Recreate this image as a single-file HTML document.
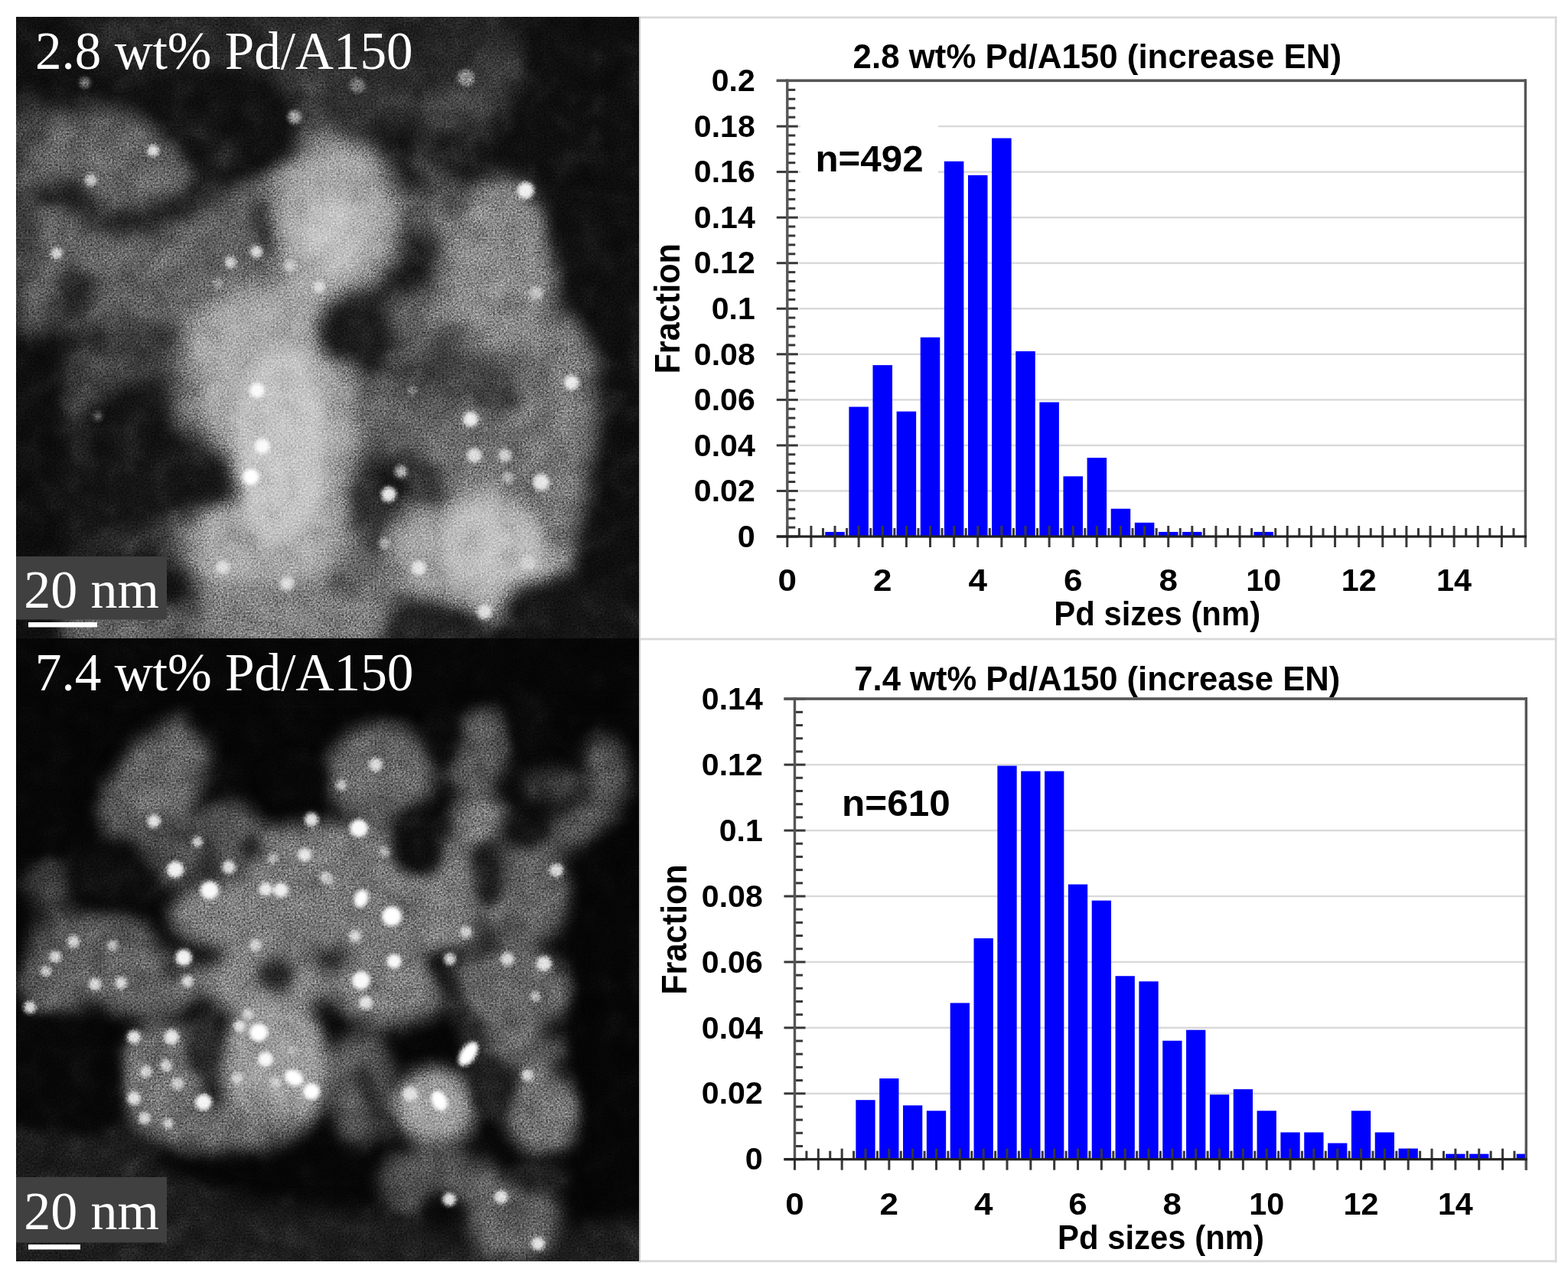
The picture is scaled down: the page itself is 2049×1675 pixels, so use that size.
<!DOCTYPE html>
<html><head><meta charset="utf-8"><title>Pd/A150 STEM and size distributions</title>
<style>
html,body{margin:0;padding:0;background:#fff;}
body{width:2049px;height:1675px;overflow:hidden;}
svg{display:block;}
</style></head>
<body>
<svg width="2049" height="1675" viewBox="0 0 2049 1675">
<rect width="2049" height="1675" fill="#fff"/>
<defs>
<filter id="fb1" color-interpolation-filters="sRGB" x="-30%" y="-30%" width="160%" height="160%"><feGaussianBlur stdDeviation="15"/></filter>
<filter id="fb2" color-interpolation-filters="sRGB" x="-30%" y="-30%" width="160%" height="160%"><feGaussianBlur stdDeviation="10"/></filter>
<filter id="fb3" color-interpolation-filters="sRGB" x="-30%" y="-30%" width="160%" height="160%"><feGaussianBlur stdDeviation="11"/></filter>
<filter id="fb4" color-interpolation-filters="sRGB" x="-30%" y="-30%" width="160%" height="160%"><feGaussianBlur stdDeviation="8"/></filter>
<filter id="fdot" color-interpolation-filters="sRGB" x="-50%" y="-50%" width="200%" height="200%"><feGaussianBlur stdDeviation="2.6"/></filter>
<filter id="fmottle" color-interpolation-filters="sRGB" x="0" y="0" width="100%" height="100%"><feTurbulence type="fractalNoise" baseFrequency="0.03" numOctaves="2" seed="11"/><feColorMatrix type="matrix" values="0.33 0.33 0.33 0 0  0.33 0.33 0.33 0 0  0.33 0.33 0.33 0 0  0 0 0 0 1"/><feComponentTransfer><feFuncR type="linear" slope="2.2" intercept="-0.6"/><feFuncG type="linear" slope="2.2" intercept="-0.6"/><feFuncB type="linear" slope="2.2" intercept="-0.6"/></feComponentTransfer></filter>
<filter id="fnoise" color-interpolation-filters="sRGB" x="0" y="0" width="100%" height="100%"><feTurbulence type="fractalNoise" baseFrequency="0.42" numOctaves="2" seed="7"/><feColorMatrix type="matrix" values="0.33 0.33 0.33 0 0  0.33 0.33 0.33 0 0  0.33 0.33 0.33 0 0  0 0 0 0 1"/><feComponentTransfer><feFuncR type="linear" slope="3.2" intercept="-1.1"/><feFuncG type="linear" slope="3.2" intercept="-1.1"/><feFuncB type="linear" slope="3.2" intercept="-1.1"/></feComponentTransfer></filter>
</defs><clipPath id="c1"><rect x="0" y="0" width="814" height="812"/></clipPath>
<g transform="translate(21,22)" clip-path="url(#c1)">
<rect x="0" y="0" width="814" height="812" fill="#111111"/>
<g filter="url(#fb1)"><ellipse cx="400" cy="30" rx="320" ry="70" fill="#242424"/><ellipse cx="380" cy="40" rx="60" ry="40" fill="#323232"/><path d="M0,135 L40,128 L80,120 L130,122 L180,137 L222,165 L236,230 L215,262 L150,268 L100,240 L40,226 L0,245Z" fill="#666666"/><ellipse cx="14" cy="150" rx="28" ry="40" fill="#464646"/><ellipse cx="395" cy="125" rx="25" ry="60" fill="#525252"/><ellipse cx="90" cy="505" rx="40" ry="40" fill="#424242"/><ellipse cx="497" cy="520" rx="55" ry="65" fill="#5f5f5f"/><ellipse cx="470" cy="720" rx="45" ry="60" fill="#696969"/><ellipse cx="240" cy="680" rx="60" ry="38" fill="#585858"/><ellipse cx="120" cy="682" rx="60" ry="25" fill="#303030"/><ellipse cx="565" cy="475" rx="85" ry="40" fill="#505050" transform="rotate(15 565 475)"/><ellipse cx="560" cy="255" rx="45" ry="40" fill="#646464"/><ellipse cx="577" cy="112" rx="26" ry="58" fill="#606060" transform="rotate(40 577 112)"/><ellipse cx="380" cy="560" rx="45" ry="120" fill="#c8c8c8"/><path d="M0,250 L40,232 L100,248 L150,275 L215,270 L260,230 L290,200 L340,180 L407,160 L420,406 L0,406Z" fill="#646464"/><path d="M520,175 L560,120 L605,55 L645,30 L672,50 L645,110 L595,170 L548,205Z" fill="#3e3e3e"/><ellipse cx="465" cy="105" rx="75" ry="45" fill="#323232"/><ellipse cx="418" cy="262" rx="88" ry="105" fill="#a8a8a8"/><ellipse cx="525" cy="395" rx="45" ry="45" fill="#646464"/><ellipse cx="630" cy="330" rx="78" ry="120" fill="#8c8c8c"/><ellipse cx="715" cy="500" rx="70" ry="110" fill="#767676"/><ellipse cx="600" cy="565" rx="75" ry="60" fill="#707070"/><path d="M210,410 L280,360 L380,340 L440,420 L450,560 L430,700 L380,780 L260,790 L220,700 L250,620 L300,600 L260,560 L215,520Z" fill="#aaaaaa"/><path d="M500,640 L600,610 L700,610 L735,700 L700,780 L600,790 L520,760 L480,700Z" fill="#a5a5a5"/><ellipse cx="690" cy="610" rx="60" ry="90" fill="#767676"/><ellipse cx="360" cy="790" rx="140" ry="50" fill="#828282"/><ellipse cx="120" cy="800" rx="110" ry="40" fill="#646464"/><ellipse cx="140" cy="480" rx="90" ry="60" fill="#464646"/><ellipse cx="200" cy="560" rx="50" ry="60" fill="#505050"/></g>
<g filter="url(#fb2)"><path d="M160,80 L250,68 L330,80 L362,125 L358,178 L320,205 L270,222 L238,195 L200,160 L170,120Z" fill="#121212"/><path d="M31,232 L85,244 L121,266 L182,262 L218,242 L255,218 L268,182 L245,145" fill="none" stroke="#1e1e1e" stroke-width="26" stroke-linecap="round" stroke-linejoin="round"/><ellipse cx="68" cy="228" rx="20" ry="14" fill="#1c1c1c"/><ellipse cx="75" cy="365" rx="28" ry="38" fill="#2a2a2a"/><path d="M318,245 L325,305" fill="none" stroke="#2d2d2d" stroke-width="22" stroke-linecap="round" stroke-linejoin="round"/><ellipse cx="8" cy="290" rx="22" ry="50" fill="#3e3e3e"/><path d="M121,485 L190,470 L206,539 L267,588 L300,622 L265,638 L200,636 L150,655 L60,700 L60,560Z" fill="#161616"/><rect x="-20" y="430" width="80" height="400" fill="#0f0f0f"/><path d="M655,-10 L830,-10 L830,830 L738,830 L732,730 L758,640 L762,520 L760,440 L735,380 L700,300 L690,200 L680,130Z" fill="#101010"/><ellipse cx="437" cy="412" rx="45" ry="42" fill="#1c1c1c"/><path d="M535,190 L575,245" fill="none" stroke="#4e4e4e" stroke-width="30" stroke-linecap="round" stroke-linejoin="round"/><path d="M492,455 L560,470 L640,500" fill="none" stroke="#3e3e3e" stroke-width="30" stroke-linecap="round" stroke-linejoin="round"/><path d="M455,610 L470,690" fill="none" stroke="#373737" stroke-width="30" stroke-linecap="round" stroke-linejoin="round"/><path d="M510,585 L550,625" fill="none" stroke="#373737" stroke-width="30" stroke-linecap="round" stroke-linejoin="round"/><ellipse cx="545" cy="800" rx="60" ry="30" fill="#232323"/><ellipse cx="722" cy="782" rx="85" ry="52" fill="#161616"/><ellipse cx="570" cy="175" rx="35" ry="30" fill="#1e1e1e"/><ellipse cx="415" cy="285" rx="45" ry="50" fill="#c0c0c0"/><ellipse cx="345" cy="560" rx="60" ry="130" fill="#c4c4c4"/><ellipse cx="620" cy="690" rx="70" ry="60" fill="#bcbcbc"/></g>
<g filter="url(#fdot)"><circle cx="90" cy="86" r="7" fill="#828282"/><circle cx="179" cy="175" r="8" fill="#e1e1e1"/><circle cx="98" cy="213" r="8" fill="#c8c8c8"/><circle cx="53" cy="309" r="8" fill="#d7d7d7"/><circle cx="280" cy="321" r="8" fill="#cdcdcd"/><circle cx="314" cy="307" r="8" fill="#d7d7d7"/><circle cx="358" cy="325" r="8" fill="#cdcdcd"/><circle cx="364" cy="131" r="9" fill="#a5a5a5"/><circle cx="396" cy="353" r="8" fill="#dcdcdc"/><circle cx="264" cy="349" r="7" fill="#9b9b9b"/><circle cx="372" cy="376" r="6" fill="#a5a5a5"/><circle cx="315" cy="488" r="10" fill="#fafafa"/><circle cx="322" cy="561" r="10" fill="#fafafa"/><circle cx="307" cy="601" r="11" fill="#ffffff"/><circle cx="270" cy="719" r="9" fill="#dcdcdc"/><circle cx="354" cy="741" r="9" fill="#dcdcdc"/><circle cx="107" cy="522" r="6" fill="#696969"/><circle cx="92" cy="484" r="6" fill="#5a5a5a"/><circle cx="364" cy="484" r="8" fill="#c8c8c8"/><circle cx="726" cy="478" r="10" fill="#ebebeb"/><circle cx="594" cy="526" r="10" fill="#ebebeb"/><circle cx="599" cy="573" r="10" fill="#dcdcdc"/><circle cx="639" cy="573" r="9" fill="#d2d2d2"/><circle cx="503" cy="594" r="8" fill="#b4b4b4"/><circle cx="487" cy="624" r="10" fill="#e6e6e6"/><circle cx="643" cy="602" r="8" fill="#b4b4b4"/><circle cx="686" cy="608" r="11" fill="#e6e6e6"/><circle cx="641" cy="685" r="9" fill="#c3c3c3"/><circle cx="669" cy="713" r="10" fill="#d2d2d2"/><circle cx="526" cy="720" r="10" fill="#e6e6e6"/><circle cx="613" cy="745" r="8" fill="#b4b4b4"/><circle cx="612" cy="777" r="10" fill="#dcdcdc"/><circle cx="482" cy="688" r="8" fill="#a5a5a5"/><circle cx="518" cy="488" r="6" fill="#8c8c8c"/><circle cx="588" cy="80" r="11" fill="#9b9b9b"/><circle cx="446" cy="90" r="10" fill="#7d7d7d"/><circle cx="666" cy="227" r="11" fill="#f0f0f0"/><circle cx="680" cy="361" r="9" fill="#bebebe"/></g>
<rect x="0" y="0" width="814" height="812" filter="url(#fmottle)" opacity="0.35" style="mix-blend-mode:soft-light"/>
<rect x="0" y="0" width="814" height="812" filter="url(#fnoise)" opacity="0.45" style="mix-blend-mode:overlay"/>
</g>
<clipPath id="c2"><rect x="0" y="0" width="814" height="814"/></clipPath>
<g transform="translate(21,834)" clip-path="url(#c2)">
<rect x="0" y="0" width="814" height="814" fill="#060606"/>
<g filter="url(#fb3)"><path d="M-20,625 L150,636 L205,702 L300,735 L480,748 L560,770 L640,800 L820,745 L830,830 L-20,830Z" fill="#1e1e1e"/><path d="M104,219 L156,136 L211,100 L257,146 L245,194 L226,232 L194,250 L158,257 L120,250Z" fill="#606060"/><ellipse cx="180" cy="190" rx="45" ry="40" fill="#6c6c6c" transform="rotate(-35 180 190)"/><ellipse cx="476" cy="178" rx="70" ry="65" fill="#6a6a6a"/><ellipse cx="605" cy="148" rx="40" ry="60" fill="#565656" transform="rotate(15 605 148)"/><path d="M768,152 L778,182 L765,216 L738,244 L705,262" fill="none" stroke="#5a5a5a" stroke-width="46" stroke-linecap="round" stroke-linejoin="round"/><ellipse cx="604" cy="236" rx="36" ry="34" fill="#7e7e7e"/><ellipse cx="280" cy="258" rx="38" ry="46" fill="#5c5c5c"/><path d="M122,245 L243,225 L250,305 L200,325 L140,310Z" fill="#4c4c4c"/><ellipse cx="700" cy="192" rx="42" ry="24" fill="#343434"/><ellipse cx="44" cy="320" rx="30" ry="36" fill="#404040"/><ellipse cx="100" cy="392" rx="80" ry="36" fill="#5c5c5c"/><path d="M300,250 L400,240 L487,250 L600,262 L600,410 L300,410Z" fill="#787878"/><ellipse cx="660" cy="335" rx="62" ry="70" fill="#646464"/><ellipse cx="300" cy="360" rx="100" ry="50" fill="#7d7d7d"/><ellipse cx="55" cy="450" rx="50" ry="45" fill="#606060"/><ellipse cx="170" cy="450" rx="75" ry="45" fill="#666666"/><ellipse cx="325" cy="450" rx="85" ry="45" fill="#848484"/><ellipse cx="486" cy="455" rx="80" ry="50" fill="#7a7a7a"/><ellipse cx="644" cy="460" rx="80" ry="55" fill="#6a6a6a"/><ellipse cx="190" cy="577" rx="55" ry="75" fill="#747474"/><ellipse cx="337" cy="560" rx="72" ry="92" fill="#9c9c9c"/><ellipse cx="450" cy="585" rx="42" ry="75" fill="#5f5f5f"/><ellipse cx="547" cy="612" rx="55" ry="50" fill="#a2a2a2"/><ellipse cx="688" cy="620" rx="50" ry="55" fill="#747474"/><ellipse cx="550" cy="710" rx="75" ry="45" fill="#565656"/><ellipse cx="652" cy="540" rx="62" ry="30" fill="#646464"/><ellipse cx="650" cy="758" rx="62" ry="58" fill="#606060"/><ellipse cx="270" cy="640" rx="100" ry="30" fill="#6e6e6e"/></g>
<g filter="url(#fb4)"><ellipse cx="365" cy="185" rx="40" ry="32" fill="#080808"/><path d="M70,270 L150,262 L200,330 L175,352 L100,352 L70,320Z" fill="#0e0e0e"/><ellipse cx="525" cy="265" rx="36" ry="48" fill="#0f0f0f"/><ellipse cx="618" cy="310" rx="20" ry="42" fill="#1e1e1e"/><ellipse cx="251" cy="274" rx="10" ry="20" fill="#282828"/><ellipse cx="306" cy="274" rx="15" ry="20" fill="#262626"/><ellipse cx="340" cy="440" rx="25" ry="22" fill="#282828"/><ellipse cx="243" cy="528" rx="22" ry="45" fill="#2d2d2d"/><path d="M560,440 L600,535" fill="none" stroke="#1e1e1e" stroke-width="28" stroke-linecap="round" stroke-linejoin="round"/><path d="M452,570 L485,645" fill="none" stroke="#2a2a2a" stroke-width="26" stroke-linecap="round" stroke-linejoin="round"/><ellipse cx="620" cy="585" rx="28" ry="40" fill="#1e1e1e"/><ellipse cx="556" cy="748" rx="32" ry="24" fill="#0c0c0c"/><ellipse cx="686" cy="705" rx="35" ry="25" fill="#202020"/><path d="M-20,495 L60,492 L120,510 L138,560 L138,620 L110,650 L-20,640Z" fill="#080808"/><path d="M745,270 L830,260 L830,745 L765,745 L745,680 L742,600 L738,450Z" fill="#060606"/><ellipse cx="548" cy="424" rx="11" ry="10" fill="#080808"/><rect x="-20" y="-20" width="860" height="100" fill="#060606"/><path d="M-20,-20 L110,-20 L100,210 L60,285 L-20,295Z" fill="#060606"/><ellipse cx="560" cy="120" rx="22" ry="45" fill="#0a0a0a"/><ellipse cx="672" cy="115" rx="30" ry="45" fill="#0a0a0a"/><ellipse cx="672" cy="250" rx="28" ry="22" fill="#141414"/><ellipse cx="202" cy="434" rx="14" ry="14" fill="#323232"/></g>
<g filter="url(#fdot)"><circle cx="180" cy="239" r="9" fill="#e6e6e6"/><circle cx="237" cy="266" r="7" fill="#cdcdcd"/><circle cx="208" cy="302" r="11" fill="#f0f0f0"/><circle cx="253" cy="329" r="12" fill="#fafafa"/><circle cx="278" cy="299" r="9" fill="#dcdcdc"/><circle cx="335" cy="288" r="7" fill="#b9b9b9"/><circle cx="377" cy="283" r="9" fill="#e6e6e6"/><circle cx="386" cy="237" r="9" fill="#e1e1e1"/><circle cx="326" cy="328" r="9" fill="#ebebeb"/><circle cx="346" cy="329" r="10" fill="#f0f0f0"/><circle cx="405" cy="313" r="8" fill="#e1e1e1"/><circle cx="75" cy="396" r="8" fill="#d2d2d2"/><circle cx="126" cy="401" r="7" fill="#bebebe"/><circle cx="313" cy="401" r="8" fill="#d2d2d2"/><circle cx="470" cy="165" r="9" fill="#dcdcdc"/><circle cx="425" cy="192" r="7" fill="#c3c3c3"/><circle cx="448" cy="248" r="12" fill="#fafafa"/><circle cx="481" cy="279" r="7" fill="#b9b9b9"/><circle cx="409" cy="316" r="7" fill="#c3c3c3"/><ellipse cx="451" cy="340" rx="9" ry="12" fill="#ffffff" transform="rotate(20 451 340)"/><circle cx="491" cy="363" r="13" fill="#ffffff"/><circle cx="443" cy="389" r="8" fill="#d7d7d7"/><circle cx="588" cy="384" r="8" fill="#cdcdcd"/><circle cx="706" cy="303" r="9" fill="#d7d7d7"/><circle cx="51" cy="416" r="8" fill="#d7d7d7"/><circle cx="39" cy="435" r="7" fill="#cdcdcd"/><circle cx="103" cy="452" r="8" fill="#d7d7d7"/><circle cx="137" cy="450" r="8" fill="#d7d7d7"/><circle cx="18" cy="482" r="8" fill="#d7d7d7"/><circle cx="219" cy="417" r="11" fill="#f5f5f5"/><circle cx="224" cy="448" r="8" fill="#d7d7d7"/><circle cx="303" cy="491" r="7" fill="#d7d7d7"/><circle cx="292" cy="507" r="8" fill="#e1e1e1"/><circle cx="317" cy="515" r="12" fill="#ffffff"/><circle cx="326" cy="550" r="10" fill="#fafafa"/><circle cx="289" cy="575" r="8" fill="#d7d7d7"/><ellipse cx="363" cy="574" rx="13" ry="10" fill="#ffffff" transform="rotate(30 363 574)"/><circle cx="386" cy="592" r="11" fill="#ffffff"/><circle cx="339" cy="580" r="7" fill="#cdcdcd"/><circle cx="154" cy="521" r="9" fill="#e1e1e1"/><circle cx="203" cy="521" r="10" fill="#e6e6e6"/><circle cx="170" cy="566" r="8" fill="#d7d7d7"/><circle cx="196" cy="558" r="8" fill="#d7d7d7"/><circle cx="211" cy="582" r="8" fill="#cdcdcd"/><circle cx="154" cy="601" r="9" fill="#e1e1e1"/><circle cx="245" cy="606" r="11" fill="#f5f5f5"/><circle cx="168" cy="627" r="8" fill="#d7d7d7"/><circle cx="199" cy="634" r="7" fill="#cdcdcd"/><circle cx="361" cy="538" r="6" fill="#b9b9b9"/><circle cx="494" cy="422" r="10" fill="#fafafa"/><circle cx="451" cy="447" r="12" fill="#fafafa"/><circle cx="457" cy="476" r="9" fill="#e1e1e1"/><circle cx="567" cy="419" r="8" fill="#d7d7d7"/><circle cx="642" cy="419" r="9" fill="#d7d7d7"/><circle cx="690" cy="425" r="10" fill="#e1e1e1"/><circle cx="679" cy="468" r="7" fill="#c3c3c3"/><ellipse cx="591" cy="543" rx="10" ry="18" fill="#ffffff" transform="rotate(35 591 543)"/><circle cx="668" cy="571" r="8" fill="#d7d7d7"/><circle cx="515" cy="595" r="10" fill="#e1e1e1"/><ellipse cx="553" cy="604" rx="10" ry="14" fill="#ffffff" transform="rotate(-25 553 604)"/><circle cx="566" cy="733" r="9" fill="#e1e1e1"/><circle cx="634" cy="730" r="9" fill="#e1e1e1"/><circle cx="682" cy="791" r="9" fill="#e1e1e1"/></g>
<rect x="0" y="0" width="814" height="814" filter="url(#fmottle)" opacity="0.35" style="mix-blend-mode:soft-light"/>
<rect x="0" y="0" width="814" height="814" filter="url(#fnoise)" opacity="0.45" style="mix-blend-mode:overlay"/>
</g>
<text x="46" y="89.8" font-family="'Liberation Serif', 'Times New Roman', serif" font-size="70" font-weight="normal" fill="#fff" text-anchor="start" textLength="493.6" lengthAdjust="spacingAndGlyphs">2.8 wt% Pd/A150</text>
<text x="45.8" y="902" font-family="'Liberation Serif', 'Times New Roman', serif" font-size="70" font-weight="normal" fill="#fff" text-anchor="start" textLength="494.7" lengthAdjust="spacingAndGlyphs">7.4 wt% Pd/A150</text>
<rect x="21" y="727" width="197" height="82.5" fill="#404040"/>
<rect x="37" y="813" width="90" height="6.5" fill="#fff"/>
<text x="31.2" y="794.2" font-family="'Liberation Serif', 'Times New Roman', serif" font-size="70" font-weight="normal" fill="#fff" text-anchor="start" textLength="176.8" lengthAdjust="spacingAndGlyphs">20 nm</text>
<rect x="21" y="1538" width="197" height="85.5" fill="#404040"/>
<rect x="37" y="1626" width="68" height="6.5" fill="#fff"/>
<text x="31.2" y="1605.8" font-family="'Liberation Serif', 'Times New Roman', serif" font-size="70" font-weight="normal" fill="#fff" text-anchor="start" textLength="176.8" lengthAdjust="spacingAndGlyphs">20 nm</text>
<rect x="835" y="21.5" width="1199.5" height="2.6" fill="#d9d9d9"/>
<rect x="2031.8" y="21.5" width="2.6" height="1628" fill="#d9d9d9"/>
<rect x="835" y="833.6" width="1199.5" height="2.8" fill="#d9d9d9"/>
<rect x="835" y="1646.4" width="1199.5" height="2.8" fill="#d9d9d9"/>
<rect x="835" y="21.5" width="2" height="1628" fill="#cccccc"/>
<rect x="1044" y="640.25" width="949.5" height="2.4" fill="#d9d9d9"/>
<rect x="1044" y="580.7" width="949.5" height="2.4" fill="#d9d9d9"/>
<rect x="1044" y="521.15" width="949.5" height="2.4" fill="#d9d9d9"/>
<rect x="1044" y="461.6" width="949.5" height="2.4" fill="#d9d9d9"/>
<rect x="1044" y="402.05" width="949.5" height="2.4" fill="#d9d9d9"/>
<rect x="1044" y="342.5" width="949.5" height="2.4" fill="#d9d9d9"/>
<rect x="1044" y="282.95" width="949.5" height="2.4" fill="#d9d9d9"/>
<rect x="1044" y="223.4" width="949.5" height="2.4" fill="#d9d9d9"/>
<rect x="1044" y="163.85" width="949.5" height="2.4" fill="#d9d9d9"/>
<rect x="1046" y="140" width="180" height="110" fill="#fff"/>
<rect x="1078.28" y="694.95" width="25.52" height="6.05" fill="#0000ff"/>
<rect x="1109.4" y="531.55" width="25.52" height="169.45" fill="#0000ff"/>
<rect x="1140.52" y="477.08" width="25.52" height="223.92" fill="#0000ff"/>
<rect x="1171.64" y="537.6" width="25.52" height="163.4" fill="#0000ff"/>
<rect x="1202.76" y="440.77" width="25.52" height="260.23" fill="#0000ff"/>
<rect x="1233.88" y="210.8" width="25.52" height="490.2" fill="#0000ff"/>
<rect x="1265" y="228.96" width="25.52" height="472.04" fill="#0000ff"/>
<rect x="1296.12" y="180.54" width="25.52" height="520.46" fill="#0000ff"/>
<rect x="1327.23" y="458.93" width="25.52" height="242.07" fill="#0000ff"/>
<rect x="1358.35" y="525.5" width="25.52" height="175.5" fill="#0000ff"/>
<rect x="1389.47" y="622.33" width="25.52" height="78.67" fill="#0000ff"/>
<rect x="1420.59" y="598.12" width="25.52" height="102.88" fill="#0000ff"/>
<rect x="1451.71" y="664.69" width="25.52" height="36.31" fill="#0000ff"/>
<rect x="1482.83" y="682.84" width="25.52" height="18.16" fill="#0000ff"/>
<rect x="1513.95" y="694.95" width="25.52" height="6.05" fill="#0000ff"/>
<rect x="1545.07" y="694.95" width="25.52" height="6.05" fill="#0000ff"/>
<rect x="1638.43" y="694.95" width="25.52" height="6.05" fill="#0000ff"/>
<rect x="1014.8" y="699.5" width="28" height="3" fill="#383838"/>
<rect x="1028.8" y="687.59" width="10.5" height="3" fill="#383838"/>
<rect x="1028.8" y="675.68" width="10.5" height="3" fill="#383838"/>
<rect x="1028.8" y="663.77" width="10.5" height="3" fill="#383838"/>
<rect x="1028.8" y="651.86" width="10.5" height="3" fill="#383838"/>
<rect x="1014.8" y="639.95" width="28" height="3" fill="#383838"/>
<rect x="1028.8" y="628.04" width="10.5" height="3" fill="#383838"/>
<rect x="1028.8" y="616.13" width="10.5" height="3" fill="#383838"/>
<rect x="1028.8" y="604.22" width="10.5" height="3" fill="#383838"/>
<rect x="1028.8" y="592.31" width="10.5" height="3" fill="#383838"/>
<rect x="1014.8" y="580.4" width="28" height="3" fill="#383838"/>
<rect x="1028.8" y="568.49" width="10.5" height="3" fill="#383838"/>
<rect x="1028.8" y="556.58" width="10.5" height="3" fill="#383838"/>
<rect x="1028.8" y="544.67" width="10.5" height="3" fill="#383838"/>
<rect x="1028.8" y="532.76" width="10.5" height="3" fill="#383838"/>
<rect x="1014.8" y="520.85" width="28" height="3" fill="#383838"/>
<rect x="1028.8" y="508.94" width="10.5" height="3" fill="#383838"/>
<rect x="1028.8" y="497.03" width="10.5" height="3" fill="#383838"/>
<rect x="1028.8" y="485.12" width="10.5" height="3" fill="#383838"/>
<rect x="1028.8" y="473.21" width="10.5" height="3" fill="#383838"/>
<rect x="1014.8" y="461.3" width="28" height="3" fill="#383838"/>
<rect x="1028.8" y="449.39" width="10.5" height="3" fill="#383838"/>
<rect x="1028.8" y="437.48" width="10.5" height="3" fill="#383838"/>
<rect x="1028.8" y="425.57" width="10.5" height="3" fill="#383838"/>
<rect x="1028.8" y="413.66" width="10.5" height="3" fill="#383838"/>
<rect x="1014.8" y="401.75" width="28" height="3" fill="#383838"/>
<rect x="1028.8" y="389.84" width="10.5" height="3" fill="#383838"/>
<rect x="1028.8" y="377.93" width="10.5" height="3" fill="#383838"/>
<rect x="1028.8" y="366.02" width="10.5" height="3" fill="#383838"/>
<rect x="1028.8" y="354.11" width="10.5" height="3" fill="#383838"/>
<rect x="1014.8" y="342.2" width="28" height="3" fill="#383838"/>
<rect x="1028.8" y="330.29" width="10.5" height="3" fill="#383838"/>
<rect x="1028.8" y="318.38" width="10.5" height="3" fill="#383838"/>
<rect x="1028.8" y="306.47" width="10.5" height="3" fill="#383838"/>
<rect x="1028.8" y="294.56" width="10.5" height="3" fill="#383838"/>
<rect x="1014.8" y="282.65" width="28" height="3" fill="#383838"/>
<rect x="1028.8" y="270.74" width="10.5" height="3" fill="#383838"/>
<rect x="1028.8" y="258.83" width="10.5" height="3" fill="#383838"/>
<rect x="1028.8" y="246.92" width="10.5" height="3" fill="#383838"/>
<rect x="1028.8" y="235.01" width="10.5" height="3" fill="#383838"/>
<rect x="1014.8" y="223.1" width="28" height="3" fill="#383838"/>
<rect x="1028.8" y="211.19" width="10.5" height="3" fill="#383838"/>
<rect x="1028.8" y="199.28" width="10.5" height="3" fill="#383838"/>
<rect x="1028.8" y="187.37" width="10.5" height="3" fill="#383838"/>
<rect x="1028.8" y="175.46" width="10.5" height="3" fill="#383838"/>
<rect x="1014.8" y="163.55" width="28" height="3" fill="#383838"/>
<rect x="1028.8" y="151.64" width="10.5" height="3" fill="#383838"/>
<rect x="1028.8" y="139.73" width="10.5" height="3" fill="#383838"/>
<rect x="1028.8" y="127.82" width="10.5" height="3" fill="#383838"/>
<rect x="1028.8" y="115.91" width="10.5" height="3" fill="#383838"/>
<rect x="1014.8" y="104" width="28" height="3" fill="#383838"/>
<rect x="1027.3" y="687" width="3" height="28" fill="#383838"/>
<rect x="1042.86" y="690" width="3" height="11" fill="#383838"/>
<rect x="1058.42" y="687" width="3" height="28" fill="#383838"/>
<rect x="1073.98" y="690" width="3" height="11" fill="#383838"/>
<rect x="1089.54" y="687" width="3" height="28" fill="#383838"/>
<rect x="1105.1" y="690" width="3" height="11" fill="#383838"/>
<rect x="1120.66" y="687" width="3" height="28" fill="#383838"/>
<rect x="1136.22" y="690" width="3" height="11" fill="#383838"/>
<rect x="1151.78" y="687" width="3" height="28" fill="#383838"/>
<rect x="1167.34" y="690" width="3" height="11" fill="#383838"/>
<rect x="1182.9" y="687" width="3" height="28" fill="#383838"/>
<rect x="1198.46" y="690" width="3" height="11" fill="#383838"/>
<rect x="1214.02" y="687" width="3" height="28" fill="#383838"/>
<rect x="1229.58" y="690" width="3" height="11" fill="#383838"/>
<rect x="1245.14" y="687" width="3" height="28" fill="#383838"/>
<rect x="1260.7" y="690" width="3" height="11" fill="#383838"/>
<rect x="1276.25" y="687" width="3" height="28" fill="#383838"/>
<rect x="1291.81" y="690" width="3" height="11" fill="#383838"/>
<rect x="1307.37" y="687" width="3" height="28" fill="#383838"/>
<rect x="1322.93" y="690" width="3" height="11" fill="#383838"/>
<rect x="1338.49" y="687" width="3" height="28" fill="#383838"/>
<rect x="1354.05" y="690" width="3" height="11" fill="#383838"/>
<rect x="1369.61" y="687" width="3" height="28" fill="#383838"/>
<rect x="1385.17" y="690" width="3" height="11" fill="#383838"/>
<rect x="1400.73" y="687" width="3" height="28" fill="#383838"/>
<rect x="1416.29" y="690" width="3" height="11" fill="#383838"/>
<rect x="1431.85" y="687" width="3" height="28" fill="#383838"/>
<rect x="1447.41" y="690" width="3" height="11" fill="#383838"/>
<rect x="1462.97" y="687" width="3" height="28" fill="#383838"/>
<rect x="1478.53" y="690" width="3" height="11" fill="#383838"/>
<rect x="1494.09" y="687" width="3" height="28" fill="#383838"/>
<rect x="1509.65" y="690" width="3" height="11" fill="#383838"/>
<rect x="1525.21" y="687" width="3" height="28" fill="#383838"/>
<rect x="1540.77" y="690" width="3" height="11" fill="#383838"/>
<rect x="1556.33" y="687" width="3" height="28" fill="#383838"/>
<rect x="1571.89" y="690" width="3" height="11" fill="#383838"/>
<rect x="1587.45" y="687" width="3" height="28" fill="#383838"/>
<rect x="1603.01" y="690" width="3" height="11" fill="#383838"/>
<rect x="1618.57" y="687" width="3" height="28" fill="#383838"/>
<rect x="1634.13" y="690" width="3" height="11" fill="#383838"/>
<rect x="1649.69" y="687" width="3" height="28" fill="#383838"/>
<rect x="1665.25" y="690" width="3" height="11" fill="#383838"/>
<rect x="1680.81" y="687" width="3" height="28" fill="#383838"/>
<rect x="1696.37" y="690" width="3" height="11" fill="#383838"/>
<rect x="1711.93" y="687" width="3" height="28" fill="#383838"/>
<rect x="1727.49" y="690" width="3" height="11" fill="#383838"/>
<rect x="1743.05" y="687" width="3" height="28" fill="#383838"/>
<rect x="1758.6" y="690" width="3" height="11" fill="#383838"/>
<rect x="1774.16" y="687" width="3" height="28" fill="#383838"/>
<rect x="1789.72" y="690" width="3" height="11" fill="#383838"/>
<rect x="1805.28" y="687" width="3" height="28" fill="#383838"/>
<rect x="1820.84" y="690" width="3" height="11" fill="#383838"/>
<rect x="1836.4" y="687" width="3" height="28" fill="#383838"/>
<rect x="1851.96" y="690" width="3" height="11" fill="#383838"/>
<rect x="1867.52" y="687" width="3" height="28" fill="#383838"/>
<rect x="1883.08" y="690" width="3" height="11" fill="#383838"/>
<rect x="1898.64" y="687" width="3" height="28" fill="#383838"/>
<rect x="1914.2" y="690" width="3" height="11" fill="#383838"/>
<rect x="1929.76" y="687" width="3" height="28" fill="#383838"/>
<rect x="1945.32" y="690" width="3" height="11" fill="#383838"/>
<rect x="1960.88" y="687" width="3" height="28" fill="#383838"/>
<rect x="1976.44" y="690" width="3" height="11" fill="#383838"/>
<rect x="1992" y="687" width="3" height="28" fill="#383838"/>
<rect x="1014.8" y="103.5" width="980.2" height="3.6" fill="#555"/>
<rect x="1991.7" y="103.5" width="3.4" height="611.5" fill="#555"/>
<rect x="1027.1" y="103.5" width="3.4" height="597.5" fill="#555"/>
<rect x="1014.8" y="699.4" width="980.2" height="3.2" fill="#222"/>
<text x="986.8" y="714.7" font-family="'Liberation Sans', Arial, sans-serif" font-size="41" font-weight="bold" fill="#000" text-anchor="end" textLength="23" lengthAdjust="spacingAndGlyphs">0</text>
<text x="986.8" y="655.15" font-family="'Liberation Sans', Arial, sans-serif" font-size="41" font-weight="bold" fill="#000" text-anchor="end" textLength="80" lengthAdjust="spacingAndGlyphs">0.02</text>
<text x="986.8" y="595.6" font-family="'Liberation Sans', Arial, sans-serif" font-size="41" font-weight="bold" fill="#000" text-anchor="end" textLength="80" lengthAdjust="spacingAndGlyphs">0.04</text>
<text x="986.8" y="536.05" font-family="'Liberation Sans', Arial, sans-serif" font-size="41" font-weight="bold" fill="#000" text-anchor="end" textLength="80" lengthAdjust="spacingAndGlyphs">0.06</text>
<text x="986.8" y="476.5" font-family="'Liberation Sans', Arial, sans-serif" font-size="41" font-weight="bold" fill="#000" text-anchor="end" textLength="80" lengthAdjust="spacingAndGlyphs">0.08</text>
<text x="986.8" y="416.95" font-family="'Liberation Sans', Arial, sans-serif" font-size="41" font-weight="bold" fill="#000" text-anchor="end" textLength="57" lengthAdjust="spacingAndGlyphs">0.1</text>
<text x="986.8" y="357.4" font-family="'Liberation Sans', Arial, sans-serif" font-size="41" font-weight="bold" fill="#000" text-anchor="end" textLength="80" lengthAdjust="spacingAndGlyphs">0.12</text>
<text x="986.8" y="297.85" font-family="'Liberation Sans', Arial, sans-serif" font-size="41" font-weight="bold" fill="#000" text-anchor="end" textLength="80" lengthAdjust="spacingAndGlyphs">0.14</text>
<text x="986.8" y="238.3" font-family="'Liberation Sans', Arial, sans-serif" font-size="41" font-weight="bold" fill="#000" text-anchor="end" textLength="80" lengthAdjust="spacingAndGlyphs">0.16</text>
<text x="986.8" y="178.75" font-family="'Liberation Sans', Arial, sans-serif" font-size="41" font-weight="bold" fill="#000" text-anchor="end" textLength="80" lengthAdjust="spacingAndGlyphs">0.18</text>
<text x="986.8" y="119.2" font-family="'Liberation Sans', Arial, sans-serif" font-size="41" font-weight="bold" fill="#000" text-anchor="end" textLength="57" lengthAdjust="spacingAndGlyphs">0.2</text>
<text x="1028.8" y="771.6" font-family="'Liberation Sans', Arial, sans-serif" font-size="40" font-weight="bold" fill="#000" text-anchor="middle" textLength="24.5" lengthAdjust="spacingAndGlyphs">0</text>
<text x="1153.28" y="771.6" font-family="'Liberation Sans', Arial, sans-serif" font-size="40" font-weight="bold" fill="#000" text-anchor="middle" textLength="24.5" lengthAdjust="spacingAndGlyphs">2</text>
<text x="1277.75" y="771.6" font-family="'Liberation Sans', Arial, sans-serif" font-size="40" font-weight="bold" fill="#000" text-anchor="middle" textLength="24.5" lengthAdjust="spacingAndGlyphs">4</text>
<text x="1402.23" y="771.6" font-family="'Liberation Sans', Arial, sans-serif" font-size="40" font-weight="bold" fill="#000" text-anchor="middle" textLength="24.5" lengthAdjust="spacingAndGlyphs">6</text>
<text x="1526.71" y="771.6" font-family="'Liberation Sans', Arial, sans-serif" font-size="40" font-weight="bold" fill="#000" text-anchor="middle" textLength="24.5" lengthAdjust="spacingAndGlyphs">8</text>
<text x="1651.19" y="771.6" font-family="'Liberation Sans', Arial, sans-serif" font-size="40" font-weight="bold" fill="#000" text-anchor="middle" textLength="46" lengthAdjust="spacingAndGlyphs">10</text>
<text x="1775.66" y="771.6" font-family="'Liberation Sans', Arial, sans-serif" font-size="40" font-weight="bold" fill="#000" text-anchor="middle" textLength="46" lengthAdjust="spacingAndGlyphs">12</text>
<text x="1900.14" y="771.6" font-family="'Liberation Sans', Arial, sans-serif" font-size="40" font-weight="bold" fill="#000" text-anchor="middle" textLength="46" lengthAdjust="spacingAndGlyphs">14</text>
<text x="1114.6" y="88.9" font-family="'Liberation Sans', Arial, sans-serif" font-size="44" font-weight="bold" fill="#000" text-anchor="start" textLength="638.5" lengthAdjust="spacingAndGlyphs">2.8 wt% Pd/A150 (increase EN)</text>
<text x="1377.3" y="817.4" font-family="'Liberation Sans', Arial, sans-serif" font-size="45" font-weight="bold" fill="#000" text-anchor="start" textLength="269.8" lengthAdjust="spacingAndGlyphs">Pd sizes (nm)</text>
<g transform="translate(888,488.6) rotate(-90)"><text x="0" y="0" font-family="'Liberation Sans', Arial, sans-serif" font-size="47" font-weight="bold" fill="#000" text-anchor="start" textLength="170.6" lengthAdjust="spacingAndGlyphs">Fraction</text></g>
<text x="1065.4" y="223.9" font-family="'Liberation Sans', Arial, sans-serif" font-size="48.5" font-weight="bold" fill="#000" text-anchor="start" textLength="141.2" lengthAdjust="spacingAndGlyphs">n=492</text>
<rect x="1052" y="1427.57" width="942.4" height="2.4" fill="#d9d9d9"/>
<rect x="1052" y="1341.64" width="942.4" height="2.4" fill="#d9d9d9"/>
<rect x="1052" y="1255.71" width="942.4" height="2.4" fill="#d9d9d9"/>
<rect x="1052" y="1169.79" width="942.4" height="2.4" fill="#d9d9d9"/>
<rect x="1052" y="1083.86" width="942.4" height="2.4" fill="#d9d9d9"/>
<rect x="1052" y="997.93" width="942.4" height="2.4" fill="#d9d9d9"/>
<rect x="1118.36" y="1437.22" width="25.29" height="77.48" fill="#0000ff"/>
<rect x="1149.2" y="1409.05" width="25.29" height="105.65" fill="#0000ff"/>
<rect x="1180.03" y="1444.27" width="25.29" height="70.43" fill="#0000ff"/>
<rect x="1210.87" y="1451.31" width="25.29" height="63.39" fill="#0000ff"/>
<rect x="1241.71" y="1310.44" width="25.29" height="204.26" fill="#0000ff"/>
<rect x="1272.54" y="1225.92" width="25.29" height="288.78" fill="#0000ff"/>
<rect x="1303.38" y="1000.54" width="25.29" height="514.16" fill="#0000ff"/>
<rect x="1334.21" y="1007.58" width="25.29" height="507.12" fill="#0000ff"/>
<rect x="1365.05" y="1007.58" width="25.29" height="507.12" fill="#0000ff"/>
<rect x="1395.88" y="1155.49" width="25.29" height="359.21" fill="#0000ff"/>
<rect x="1426.72" y="1176.62" width="25.29" height="338.08" fill="#0000ff"/>
<rect x="1457.55" y="1275.23" width="25.29" height="239.47" fill="#0000ff"/>
<rect x="1488.39" y="1282.27" width="25.29" height="232.43" fill="#0000ff"/>
<rect x="1519.23" y="1359.75" width="25.29" height="154.95" fill="#0000ff"/>
<rect x="1550.06" y="1345.66" width="25.29" height="169.04" fill="#0000ff"/>
<rect x="1580.9" y="1430.18" width="25.29" height="84.52" fill="#0000ff"/>
<rect x="1611.73" y="1423.14" width="25.29" height="91.56" fill="#0000ff"/>
<rect x="1642.57" y="1451.31" width="25.29" height="63.39" fill="#0000ff"/>
<rect x="1673.4" y="1479.48" width="25.29" height="35.22" fill="#0000ff"/>
<rect x="1704.24" y="1479.48" width="25.29" height="35.22" fill="#0000ff"/>
<rect x="1735.07" y="1493.57" width="25.29" height="21.13" fill="#0000ff"/>
<rect x="1765.91" y="1451.31" width="25.29" height="63.39" fill="#0000ff"/>
<rect x="1796.74" y="1479.48" width="25.29" height="35.22" fill="#0000ff"/>
<rect x="1827.58" y="1500.61" width="25.29" height="14.09" fill="#0000ff"/>
<rect x="1889.25" y="1507.66" width="25.29" height="7.04" fill="#0000ff"/>
<rect x="1920.09" y="1507.66" width="25.29" height="7.04" fill="#0000ff"/>
<rect x="1981.76" y="1507.66" width="12.64" height="7.04" fill="#0000ff"/>
<rect x="1024.5" y="1513.2" width="28" height="3" fill="#383838"/>
<rect x="1038.5" y="1496.01" width="10.5" height="3" fill="#383838"/>
<rect x="1038.5" y="1478.83" width="10.5" height="3" fill="#383838"/>
<rect x="1038.5" y="1461.64" width="10.5" height="3" fill="#383838"/>
<rect x="1038.5" y="1444.46" width="10.5" height="3" fill="#383838"/>
<rect x="1024.5" y="1427.27" width="28" height="3" fill="#383838"/>
<rect x="1038.5" y="1410.09" width="10.5" height="3" fill="#383838"/>
<rect x="1038.5" y="1392.9" width="10.5" height="3" fill="#383838"/>
<rect x="1038.5" y="1375.71" width="10.5" height="3" fill="#383838"/>
<rect x="1038.5" y="1358.53" width="10.5" height="3" fill="#383838"/>
<rect x="1024.5" y="1341.34" width="28" height="3" fill="#383838"/>
<rect x="1038.5" y="1324.16" width="10.5" height="3" fill="#383838"/>
<rect x="1038.5" y="1306.97" width="10.5" height="3" fill="#383838"/>
<rect x="1038.5" y="1289.79" width="10.5" height="3" fill="#383838"/>
<rect x="1038.5" y="1272.6" width="10.5" height="3" fill="#383838"/>
<rect x="1024.5" y="1255.41" width="28" height="3" fill="#383838"/>
<rect x="1038.5" y="1238.23" width="10.5" height="3" fill="#383838"/>
<rect x="1038.5" y="1221.04" width="10.5" height="3" fill="#383838"/>
<rect x="1038.5" y="1203.86" width="10.5" height="3" fill="#383838"/>
<rect x="1038.5" y="1186.67" width="10.5" height="3" fill="#383838"/>
<rect x="1024.5" y="1169.49" width="28" height="3" fill="#383838"/>
<rect x="1038.5" y="1152.3" width="10.5" height="3" fill="#383838"/>
<rect x="1038.5" y="1135.11" width="10.5" height="3" fill="#383838"/>
<rect x="1038.5" y="1117.93" width="10.5" height="3" fill="#383838"/>
<rect x="1038.5" y="1100.74" width="10.5" height="3" fill="#383838"/>
<rect x="1024.5" y="1083.56" width="28" height="3" fill="#383838"/>
<rect x="1038.5" y="1066.37" width="10.5" height="3" fill="#383838"/>
<rect x="1038.5" y="1049.19" width="10.5" height="3" fill="#383838"/>
<rect x="1038.5" y="1032" width="10.5" height="3" fill="#383838"/>
<rect x="1038.5" y="1014.81" width="10.5" height="3" fill="#383838"/>
<rect x="1024.5" y="997.63" width="28" height="3" fill="#383838"/>
<rect x="1038.5" y="980.44" width="10.5" height="3" fill="#383838"/>
<rect x="1038.5" y="963.26" width="10.5" height="3" fill="#383838"/>
<rect x="1038.5" y="946.07" width="10.5" height="3" fill="#383838"/>
<rect x="1038.5" y="928.89" width="10.5" height="3" fill="#383838"/>
<rect x="1024.5" y="911.7" width="28" height="3" fill="#383838"/>
<rect x="1037" y="1500.7" width="3" height="28" fill="#383838"/>
<rect x="1052.42" y="1503.7" width="3" height="11" fill="#383838"/>
<rect x="1067.84" y="1500.7" width="3" height="28" fill="#383838"/>
<rect x="1083.25" y="1503.7" width="3" height="11" fill="#383838"/>
<rect x="1098.67" y="1500.7" width="3" height="28" fill="#383838"/>
<rect x="1114.09" y="1503.7" width="3" height="11" fill="#383838"/>
<rect x="1129.51" y="1500.7" width="3" height="28" fill="#383838"/>
<rect x="1144.92" y="1503.7" width="3" height="11" fill="#383838"/>
<rect x="1160.34" y="1500.7" width="3" height="28" fill="#383838"/>
<rect x="1175.76" y="1503.7" width="3" height="11" fill="#383838"/>
<rect x="1191.18" y="1500.7" width="3" height="28" fill="#383838"/>
<rect x="1206.6" y="1503.7" width="3" height="11" fill="#383838"/>
<rect x="1222.01" y="1500.7" width="3" height="28" fill="#383838"/>
<rect x="1237.43" y="1503.7" width="3" height="11" fill="#383838"/>
<rect x="1252.85" y="1500.7" width="3" height="28" fill="#383838"/>
<rect x="1268.27" y="1503.7" width="3" height="11" fill="#383838"/>
<rect x="1283.68" y="1500.7" width="3" height="28" fill="#383838"/>
<rect x="1299.1" y="1503.7" width="3" height="11" fill="#383838"/>
<rect x="1314.52" y="1500.7" width="3" height="28" fill="#383838"/>
<rect x="1329.94" y="1503.7" width="3" height="11" fill="#383838"/>
<rect x="1345.35" y="1500.7" width="3" height="28" fill="#383838"/>
<rect x="1360.77" y="1503.7" width="3" height="11" fill="#383838"/>
<rect x="1376.19" y="1500.7" width="3" height="28" fill="#383838"/>
<rect x="1391.61" y="1503.7" width="3" height="11" fill="#383838"/>
<rect x="1407.03" y="1500.7" width="3" height="28" fill="#383838"/>
<rect x="1422.44" y="1503.7" width="3" height="11" fill="#383838"/>
<rect x="1437.86" y="1500.7" width="3" height="28" fill="#383838"/>
<rect x="1453.28" y="1503.7" width="3" height="11" fill="#383838"/>
<rect x="1468.7" y="1500.7" width="3" height="28" fill="#383838"/>
<rect x="1484.11" y="1503.7" width="3" height="11" fill="#383838"/>
<rect x="1499.53" y="1500.7" width="3" height="28" fill="#383838"/>
<rect x="1514.95" y="1503.7" width="3" height="11" fill="#383838"/>
<rect x="1530.37" y="1500.7" width="3" height="28" fill="#383838"/>
<rect x="1545.79" y="1503.7" width="3" height="11" fill="#383838"/>
<rect x="1561.2" y="1500.7" width="3" height="28" fill="#383838"/>
<rect x="1576.62" y="1503.7" width="3" height="11" fill="#383838"/>
<rect x="1592.04" y="1500.7" width="3" height="28" fill="#383838"/>
<rect x="1607.46" y="1503.7" width="3" height="11" fill="#383838"/>
<rect x="1622.87" y="1500.7" width="3" height="28" fill="#383838"/>
<rect x="1638.29" y="1503.7" width="3" height="11" fill="#383838"/>
<rect x="1653.71" y="1500.7" width="3" height="28" fill="#383838"/>
<rect x="1669.13" y="1503.7" width="3" height="11" fill="#383838"/>
<rect x="1684.55" y="1500.7" width="3" height="28" fill="#383838"/>
<rect x="1699.96" y="1503.7" width="3" height="11" fill="#383838"/>
<rect x="1715.38" y="1500.7" width="3" height="28" fill="#383838"/>
<rect x="1730.8" y="1503.7" width="3" height="11" fill="#383838"/>
<rect x="1746.22" y="1500.7" width="3" height="28" fill="#383838"/>
<rect x="1761.63" y="1503.7" width="3" height="11" fill="#383838"/>
<rect x="1777.05" y="1500.7" width="3" height="28" fill="#383838"/>
<rect x="1792.47" y="1503.7" width="3" height="11" fill="#383838"/>
<rect x="1807.89" y="1500.7" width="3" height="28" fill="#383838"/>
<rect x="1823.3" y="1503.7" width="3" height="11" fill="#383838"/>
<rect x="1838.72" y="1500.7" width="3" height="28" fill="#383838"/>
<rect x="1854.14" y="1503.7" width="3" height="11" fill="#383838"/>
<rect x="1869.56" y="1500.7" width="3" height="28" fill="#383838"/>
<rect x="1884.98" y="1503.7" width="3" height="11" fill="#383838"/>
<rect x="1900.39" y="1500.7" width="3" height="28" fill="#383838"/>
<rect x="1915.81" y="1503.7" width="3" height="11" fill="#383838"/>
<rect x="1931.23" y="1500.7" width="3" height="28" fill="#383838"/>
<rect x="1946.65" y="1503.7" width="3" height="11" fill="#383838"/>
<rect x="1962.06" y="1500.7" width="3" height="28" fill="#383838"/>
<rect x="1977.48" y="1503.7" width="3" height="11" fill="#383838"/>
<rect x="1992.9" y="1500.7" width="3" height="28" fill="#383838"/>
<rect x="1024.5" y="911.2" width="971.4" height="3.6" fill="#555"/>
<rect x="1992.6" y="911.2" width="3.4" height="617.5" fill="#555"/>
<rect x="1036.8" y="911.2" width="3.4" height="603.5" fill="#555"/>
<rect x="1024.5" y="1513.1" width="971.4" height="3.2" fill="#222"/>
<text x="996.8" y="1528.4" font-family="'Liberation Sans', Arial, sans-serif" font-size="41" font-weight="bold" fill="#000" text-anchor="end" textLength="23" lengthAdjust="spacingAndGlyphs">0</text>
<text x="996.8" y="1442.47" font-family="'Liberation Sans', Arial, sans-serif" font-size="41" font-weight="bold" fill="#000" text-anchor="end" textLength="80" lengthAdjust="spacingAndGlyphs">0.02</text>
<text x="996.8" y="1356.54" font-family="'Liberation Sans', Arial, sans-serif" font-size="41" font-weight="bold" fill="#000" text-anchor="end" textLength="80" lengthAdjust="spacingAndGlyphs">0.04</text>
<text x="996.8" y="1270.61" font-family="'Liberation Sans', Arial, sans-serif" font-size="41" font-weight="bold" fill="#000" text-anchor="end" textLength="80" lengthAdjust="spacingAndGlyphs">0.06</text>
<text x="996.8" y="1184.69" font-family="'Liberation Sans', Arial, sans-serif" font-size="41" font-weight="bold" fill="#000" text-anchor="end" textLength="80" lengthAdjust="spacingAndGlyphs">0.08</text>
<text x="996.8" y="1098.76" font-family="'Liberation Sans', Arial, sans-serif" font-size="41" font-weight="bold" fill="#000" text-anchor="end" textLength="57" lengthAdjust="spacingAndGlyphs">0.1</text>
<text x="996.8" y="1012.83" font-family="'Liberation Sans', Arial, sans-serif" font-size="41" font-weight="bold" fill="#000" text-anchor="end" textLength="80" lengthAdjust="spacingAndGlyphs">0.12</text>
<text x="996.8" y="926.9" font-family="'Liberation Sans', Arial, sans-serif" font-size="41" font-weight="bold" fill="#000" text-anchor="end" textLength="80" lengthAdjust="spacingAndGlyphs">0.14</text>
<text x="1038.5" y="1586.6" font-family="'Liberation Sans', Arial, sans-serif" font-size="41.5" font-weight="bold" fill="#000" text-anchor="middle" textLength="24.5" lengthAdjust="spacingAndGlyphs">0</text>
<text x="1161.84" y="1586.6" font-family="'Liberation Sans', Arial, sans-serif" font-size="41.5" font-weight="bold" fill="#000" text-anchor="middle" textLength="24.5" lengthAdjust="spacingAndGlyphs">2</text>
<text x="1285.18" y="1586.6" font-family="'Liberation Sans', Arial, sans-serif" font-size="41.5" font-weight="bold" fill="#000" text-anchor="middle" textLength="24.5" lengthAdjust="spacingAndGlyphs">4</text>
<text x="1408.53" y="1586.6" font-family="'Liberation Sans', Arial, sans-serif" font-size="41.5" font-weight="bold" fill="#000" text-anchor="middle" textLength="24.5" lengthAdjust="spacingAndGlyphs">6</text>
<text x="1531.87" y="1586.6" font-family="'Liberation Sans', Arial, sans-serif" font-size="41.5" font-weight="bold" fill="#000" text-anchor="middle" textLength="24.5" lengthAdjust="spacingAndGlyphs">8</text>
<text x="1655.21" y="1586.6" font-family="'Liberation Sans', Arial, sans-serif" font-size="41.5" font-weight="bold" fill="#000" text-anchor="middle" textLength="46" lengthAdjust="spacingAndGlyphs">10</text>
<text x="1778.55" y="1586.6" font-family="'Liberation Sans', Arial, sans-serif" font-size="41.5" font-weight="bold" fill="#000" text-anchor="middle" textLength="46" lengthAdjust="spacingAndGlyphs">12</text>
<text x="1901.89" y="1586.6" font-family="'Liberation Sans', Arial, sans-serif" font-size="41.5" font-weight="bold" fill="#000" text-anchor="middle" textLength="46" lengthAdjust="spacingAndGlyphs">14</text>
<text x="1116.3" y="902" font-family="'Liberation Sans', Arial, sans-serif" font-size="44" font-weight="bold" fill="#000" text-anchor="start" textLength="635" lengthAdjust="spacingAndGlyphs">7.4 wt% Pd/A150 (increase EN)</text>
<text x="1382.1" y="1631.5" font-family="'Liberation Sans', Arial, sans-serif" font-size="45" font-weight="bold" fill="#000" text-anchor="start" textLength="269.8" lengthAdjust="spacingAndGlyphs">Pd sizes (nm)</text>
<g transform="translate(897,1299.8) rotate(-90)"><text x="0" y="0" font-family="'Liberation Sans', Arial, sans-serif" font-size="47" font-weight="bold" fill="#000" text-anchor="start" textLength="170.6" lengthAdjust="spacingAndGlyphs">Fraction</text></g>
<text x="1100" y="1066" font-family="'Liberation Sans', Arial, sans-serif" font-size="48.5" font-weight="bold" fill="#000" text-anchor="start" textLength="141.7" lengthAdjust="spacingAndGlyphs">n=610</text>
</svg>
</body></html>
